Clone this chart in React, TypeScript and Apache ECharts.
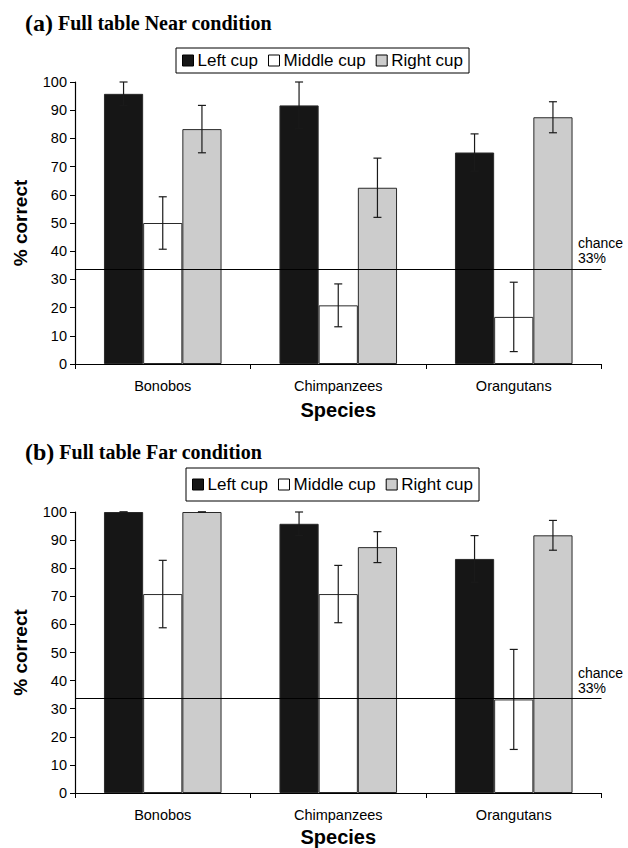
import React, { useEffect, useRef } from "react";
import * as echarts from "echarts";

const categories = ["Bonobos", "Chimpanzees", "Orangutans"];
const seriesNames = ["Left cup", "Middle cup", "Right cup"];
const yTicks = [0, 10, 20, 30, 40, 50, 60, 70, 80, 90, 100];

// Panel (a) Near condition
const nearLeft = [95.8, 91.7, 75.0];
const nearLeftErr = [4.2, 8.3, 6.6];
const nearMiddle = [50.0, 20.8, 16.7];
const nearMiddleErr = [9.3, 7.6, 12.3];
const nearRight = [83.3, 62.5, 87.5];
const nearRightErr = [8.4, 10.5, 5.5];

// Panel (b) Far condition
const farLeft = [100, 95.8, 83.3];
const farLeftErr = [0, 4.2, 8.3];
const farMiddle = [70.8, 70.8, 33.3];
const farMiddleErr = [12.0, 10.2, 17.8];
const farRight = [100, 87.5, 91.7];
const farRightErr = [0, 5.5, 5.3];

const chanceLevel = 33.7;

const SANS = "'Liberation Sans', Arial, sans-serif";
const SERIF = "'Liberation Serif', 'Times New Roman', serif";
const COLORS = ["#161616", "#ffffff", "#cccccc"];
const CAT_GAP = 0.33;

function errRender(offsetIdx: number) {
  return (params: any, api: any) => {
    const cat = api.value(0);
    const val = api.value(1);
    const err = api.value(2);
    const band = api.size([1, 0])[0];
    const barW = (band * (1 - CAT_GAP)) / 3;
    const cx = api.coord([cat, val])[0] + offsetIdx * barW;
    const yTop = api.coord([cat, val + err])[1];
    const yBot = api.coord([cat, val - err])[1];
    const cap = 4;
    const style = { stroke: "#1a1a1a", lineWidth: 1.2 };
    return {
      type: "group",
      children: [
        { type: "line", shape: { x1: cx, y1: yTop, x2: cx, y2: yBot }, style },
        { type: "line", shape: { x1: cx - cap, y1: yTop, x2: cx + cap, y2: yTop }, style },
        { type: "line", shape: { x1: cx - cap, y1: yBot, x2: cx + cap, y2: yBot }, style },
      ],
    };
  };
}

function panelSeries(
  idx: number,
  vals: number[][],
  errs: number[][]
): any[] {
  const out: any[] = [];
  vals.forEach((v, i) => {
    out.push({
      type: "bar",
      name: seriesNames[i],
      xAxisIndex: idx,
      yAxisIndex: idx,
      data: v,
      barGap: "0%",
      barCategoryGap: "33%",
      itemStyle: { color: COLORS[i], borderColor: "#2a2a2a", borderWidth: 1 },
      z: 2,
    });
  });
  errs.forEach((e, i) => {
    out.push({
      type: "custom",
      name: "err" + idx + "_" + i,
      xAxisIndex: idx,
      yAxisIndex: idx,
      renderItem: errRender(i - 1),
      data: vals[i].map((v, k) => [k, v, e[k]]),
      z: 5,
      silent: true,
      markLine:
        i === 0
          ? {
              silent: true,
              symbol: "none",
              label: { show: false },
              lineStyle: { color: "#000", width: 1.2, type: "solid" },
              data: [{ yAxis: chanceLevel }],
              z: 6,
            }
          : undefined,
    });
  });
  return out;
}

export default function App() {
  const ref = useRef<HTMLDivElement>(null);
  useEffect(() => {
    if (!ref.current) return;
    const chart = echarts.init(ref.current, null, { renderer: "svg" });
    const xAxisCommon = {
      type: "category",
      data: categories,
      name: "Species",
      nameLocation: "middle",
      nameTextStyle: { fontFamily: SANS, fontSize: 20, fontWeight: "bold", color: "#000" },
      axisLine: { lineStyle: { color: "#000", width: 1.2 } },
      axisTick: { show: true, alignWithLabel: false, length: 5, lineStyle: { color: "#000" } },
      axisLabel: { fontFamily: SANS, fontSize: 14.5, color: "#000", margin: 14 },
      splitLine: { show: false },
    };
    const yAxisCommon = {
      type: "value",
      min: 0,
      max: 100,
      interval: 10,
      name: "% correct",
      nameLocation: "middle",
      nameGap: 45,
      nameTextStyle: { fontFamily: SANS, fontSize: 19, fontWeight: "bold", color: "#000" },
      axisLine: { show: true, lineStyle: { color: "#000", width: 1.2 } },
      axisTick: { show: true, length: 5, lineStyle: { color: "#000" } },
      axisLabel: {
        fontFamily: SANS,
        fontSize: 14.5,
        color: "#000",
        margin: 8,
        formatter: (v: number) => (yTicks.indexOf(v) >= 0 ? String(v) : ""),
      },
      splitLine: { show: false },
    };
    const legendCommon = {
      data: seriesNames,
      orient: "horizontal",
      icon: "rect",
      itemWidth: 11,
      itemHeight: 11,
      itemGap: 10,
      borderColor: "#000",
      borderWidth: 1,
      borderRadius: 0,
      selectedMode: false,
      textStyle: { fontFamily: SANS, fontSize: 17, color: "#000", padding: [0, 0, 0, -1] },
      itemStyle: { borderColor: "#000", borderWidth: 1 },
    };
    const titleRich = {
      p: { fontFamily: SERIF, fontSize: 24, fontWeight: "bold", color: "#000" },
      t: { fontFamily: SERIF, fontSize: 20, fontWeight: "bold", color: "#000" },
    };
    const chanceText = (y: number) => ({
      type: "text",
      left: 578,
      top: y,
      style: {
        text: "chance\n33%",
        font: "14px " + SANS,
        fill: "#000",
        lineHeight: 15,
      },
    });
    chart.setOption({
      animation: false,
      backgroundColor: "#fff",
      title: [
        { left: 20, top: 6, text: "{p|(a)} {t|Full table Near condition}", textStyle: { rich: titleRich } },
        { left: 20, top: 435, text: "{p|(b)} {t|Full table Far condition}", textStyle: { rich: titleRich } },
      ],
      legend: [
        { ...legendCommon, left: 176, top: 48, padding: [4, 6, 4, 6] },
        { ...legendCommon, left: 186, top: 468, padding: [8, 6, 8, 6] },
      ],
      grid: [
        { left: 75, right: 26.5, top: 82, height: 282 },
        { left: 75, right: 26.5, top: 512, height: 283 },
      ],
      xAxis: [
        { ...xAxisCommon, gridIndex: 0, nameGap: 36 },
        { ...xAxisCommon, gridIndex: 1, nameGap: 34 },
      ],
      yAxis: [
        { ...yAxisCommon, gridIndex: 0 },
        { ...yAxisCommon, gridIndex: 1 },
      ],
      graphic: [chanceText(235), chanceText(665)],
      series: [
        ...panelSeries(0, [nearLeft, nearMiddle, nearRight], [nearLeftErr, nearMiddleErr, nearRightErr]),
        ...panelSeries(1, [farLeft, farMiddle, farRight], [farLeftErr, farMiddleErr, farRightErr]),
      ],
    });
    return () => chart.dispose();
  }, []);
  return (
    <div
      ref={ref}
      style={{ position: "absolute", left: 0, top: 0, width: 628, height: 848 }}
    />
  );
}
